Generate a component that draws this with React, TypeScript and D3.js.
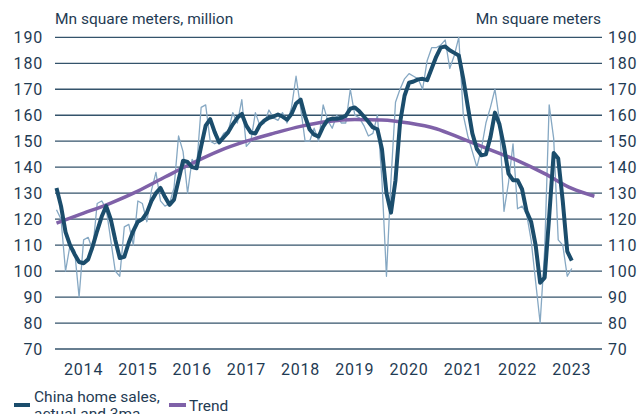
import React from "react";
import * as d3 from "d3";

// Month index 0 = Jan 2014
const actual: number[] = [
  123.6, 120, 100, 110, 108, 90, 112, 113, 108, 126, 127, 124,
  112, 100, 98, 117, 118, 110, 127, 126, 119, 131, 138, 127,
  125, 126, 132, 152, 146, 130, 143, 140, 163, 164, 150, 149,
  150, 153, 154, 161, 157, 166, 148, 150, 161, 156, 157, 162,
  159, 158, 161, 157, 163, 175, 163, 150, 150, 155, 150, 164,
  158, 155, 160, 157, 157, 170, 160, 159, 156, 152, 153, 160,
  135, 98, 135, 165, 170, 174, 176, 175, 174, 170, 181, 186,
  186, 187, 189, 178, 183, 190, 160, 152, 146, 140, 147, 157,
  163, 170, 158, 123, 134, 149, 124, 125, 122, 112, 96, 80,
  108, 164, 151, 112, 110, 98, 101,
];

const ma3: number[] = [
  132, 125, 115, 110, 106.5, 103.5, 103, 104.5, 109.5, 115.5, 121, 125,
  120, 112, 105, 105.5, 111, 115.5, 119, 120, 122.5, 127, 130, 132,
  128.5, 125.5, 127.5, 135, 142.5, 142, 140, 139.6, 148, 156, 158.5, 153.5,
  149.5, 151.5, 153.5, 156.5, 159, 160.5, 156, 153.3, 153, 156.3, 158, 159,
  159.5, 160.3, 159.5, 158.3, 160.5, 164.5, 166, 159.5, 154.5, 152.5, 151.8, 155.6,
  158.2, 158.7, 158.6, 159, 159.8, 162.5, 163, 161.5, 159.5, 157.5, 155.3, 154.6,
  147, 130, 122.5, 135, 157, 167.5, 172.5, 173, 173.8, 174, 173.5, 178,
  182.5, 186, 186.5, 185, 184, 183, 174, 163.3, 153, 147, 144.6, 145,
  151.5, 161, 156.5, 148, 137.5, 135, 135, 131.5, 123, 119, 110, 95.5,
  97.5, 121, 145.5, 143.3, 127, 107.6, 104,
];

const trendMonths: number[] = [0, 6, 12, 18, 24, 30, 36, 42, 48, 54, 60, 66, 72, 78, 84, 90, 96, 102, 108, 114, 119];
const trendValues: number[] = [118.5, 122.3, 126.2, 130.8, 136.2, 141.5, 146.3, 150, 153, 155.7, 157.6, 158.4, 158.2, 157, 154.8, 150.8, 146.7, 142.5, 137.5, 131.8, 128.8];

const years: number[] = [2014, 2015, 2016, 2017, 2018, 2019, 2020, 2021, 2022, 2023];
const yTicks: number[] = [70, 80, 90, 100, 110, 120, 130, 140, 150, 160, 170, 180, 190];

const leftTitle = "Mn square meters, million";
const rightTitle = "Mn square meters";
const legendActual = ["China home sales,", "actual and 3ma"];
const legendTrend = "Trend";

const W = 641;
const H = 414;
const gridLeft = 55;
const gridRight = 602;

const TEXT = "#1f3b53";
const GRID = "#34536b";
const THICK = "#1b4d6c";
const THIN = "#86a8c3";
const PURPLE = "#7f61a8";
const FONT = "Roboto, 'Noto Sans', sans-serif";

export default function App() {
  const x = d3.scaleLinear().domain([0, 120]).range([56.5, 56.5 + 120 * 4.52]);
  const y = d3.scaleLinear().domain([70, 190]).range([349, 37.3]);

  const lineIdx = d3
    .line<number>()
    .x((_, i) => x(i))
    .y((d) => y(d))
    .curveLinear;

  const mk = (arr: number[]) =>
    d3
      .line<number>()
      .x((_, i) => x(i))
      .y((d) => y(d))(arr) || "";

  const trendPath =
    d3
      .line<number>()
      .x((_, i) => x(trendMonths[i]))
      .y((d) => y(d))
      .curve(d3.curveMonotoneX)(trendValues) || "";

  void lineIdx;

  return (
    <svg
      width={W}
      height={H}
      style={{ position: "absolute", left: 0, top: 0, background: "#fff" }}
      fontFamily={FONT}
    >
      <rect x={0} y={0} width={W} height={H} fill="#fff" />
      {yTicks.map((t) => (
        <g key={t}>
          <line x1={gridLeft} x2={gridRight} y1={y(t)} y2={y(t)} stroke={GRID} strokeWidth={1.3} />
          <text x={43} y={y(t)} dy="0.36em" textAnchor="end" fontSize={16} fill={TEXT} letterSpacing={0.8}>
            {t}
          </text>
          <text x={608} y={y(t)} dy="0.36em" textAnchor="start" fontSize={16} fill={TEXT} letterSpacing={0.8}>
            {t}
          </text>
        </g>
      ))}
      <text x={55} y={24} fontSize={15.5} fill={TEXT}>
        {leftTitle}
      </text>
      <text x={601} y={24} fontSize={15.5} fill={TEXT} textAnchor="end">
        {rightTitle}
      </text>
      {years.map((yr, i) => (
        <text key={yr} x={x(i * 12 + 6)} y={375} fontSize={16} fill={TEXT} textAnchor="middle" letterSpacing={0.8}>
          {yr}
        </text>
      ))}
      <path d={mk(actual)} fill="none" stroke={THIN} strokeWidth={1.3} strokeLinejoin="round" />
      <path d={trendPath} fill="none" stroke={PURPLE} strokeWidth={3.5} strokeLinecap="butt" />
      <path d={mk(ma3)} fill="none" stroke={THICK} strokeWidth={4} strokeLinejoin="round" strokeLinecap="butt" />

      <line x1={14} x2={30} y1={405} y2={405} stroke={THICK} strokeWidth={4} />
      <text x={34} y={402} fontSize={15.5} fill={TEXT}>
        {legendActual[0]}
      </text>
      <text x={34} y={419} fontSize={15.5} fill={TEXT}>
        {legendActual[1]}
      </text>
      <line x1={169} x2={186} y1={405} y2={405} stroke={PURPLE} strokeWidth={4} />
      <text x={189} y={411} fontSize={15.5} fill={TEXT}>
        {legendTrend}
      </text>
    </svg>
  );
}
